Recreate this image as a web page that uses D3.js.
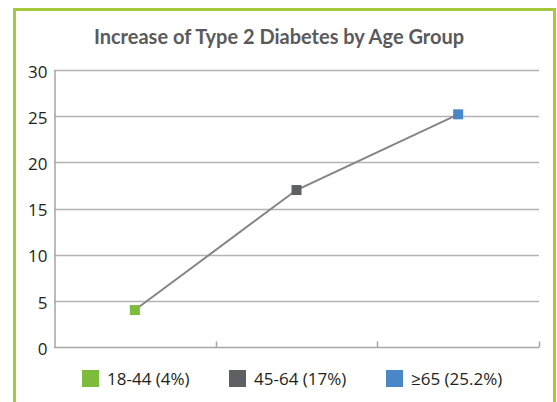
<!DOCTYPE html>
<html>
<head>
<meta charset="utf-8">
<script src="https://cdn.jsdelivr.net/npm/d3@7"></script>
<style>
  html, body { margin: 0; padding: 0; background: #fff; }
  svg { display: block; }
</style>
</head>
<body>
<svg id="chart" width="557" height="402"></svg>
<script>
// Age groups, prevalence (%) and their colours
const categories = ["18-44", "45-64", "≥65"];
const values = [4, 17, 25.2];
const legendLabels = ["18-44 (4%)", "45-64 (17%)", "≥65 (25.2%)"];
const colors = ["#7dbb3d", "#5f6064", "#4a87c7"];
const yTicks = [0, 5, 10, 15, 20, 25, 30];
const title = "Increase of Type 2 Diabetes by Age Group";

const svg = d3.select("#chart");

// Frame
svg.append("rect")
  .attr("x", 14.5).attr("y", 9.5)
  .attr("width", 540).attr("height", 420)
  .attr("fill", "#fff")
  .attr("stroke", "#a6c83c").attr("stroke-width", 3);

// Title
svg.append("text")
  .attr("x", 279).attr("y", 43.5)
  .attr("text-anchor", "middle")
  .attr("font-family", "Lato, 'Open Sans', sans-serif")
  .attr("font-weight", 700)
  .attr("font-size", 20)
  .attr("fill", "#5a5a5c")
  .text(title);

const plot = { left: 54, right: 539, top: 70, bottom: 347 };

const x = d3.scaleBand().domain(categories).range([plot.left, plot.right]);
const y = d3.scaleLinear().domain([0, 30]).range([plot.bottom, plot.top]);

// Horizontal gridlines
svg.append("g")
  .selectAll("line")
  .data(yTicks.filter(d => d > 0))
  .join("line")
  .attr("x1", plot.left).attr("x2", plot.right)
  .attr("y1", d => Math.round(y(d)) + 0.5).attr("y2", d => Math.round(y(d)) + 0.5)
  .attr("stroke", "#b3b3b3").attr("stroke-width", 1.5);

// Y axis
const yAxis = svg.append("g")
  .attr("transform", `translate(${plot.left + 0.5},0)`)
  .call(d3.axisLeft(y).tickValues(yTicks).tickSize(0).tickPadding(7));
yAxis.select(".domain").attr("stroke", "#a6a6a6").attr("stroke-width", 1.5);
yAxis.selectAll("text")
  .attr("dy", "0.43em")
  .attr("font-family", "'Open Sans', sans-serif")
  .attr("font-size", 17)
  .attr("fill", "#231f20");

// X axis with boundary ticks between categories
const xAxis = svg.append("g")
  .attr("transform", `translate(0,${Math.round(plot.bottom) + 0.5})`);
xAxis.append("line")
  .attr("x1", plot.left).attr("x2", plot.right)
  .attr("stroke", "#a6a6a6").attr("stroke-width", 1.5);
const bounds = categories.map(c => x(c)).concat([x(categories[categories.length - 1]) + x.bandwidth()]);
xAxis.selectAll("line.tick")
  .data(bounds.slice(1))
  .join("line")
  .attr("class", "tick")
  .attr("x1", d => Math.round(d) + 0.5).attr("x2", d => Math.round(d) + 0.5)
  .attr("y1", 0).attr("y2", -6)
  .attr("stroke", "#a6a6a6").attr("stroke-width", 1.5);

// Line connecting the groups
const pts = categories.map((c, i) => ({ c, v: values[i], color: colors[i] }));
const line = d3.line()
  .x(d => x(d.c) + x.bandwidth() / 2)
  .y(d => y(d.v));
svg.append("path")
  .datum(pts)
  .attr("d", line)
  .attr("fill", "none")
  .attr("stroke", "#858585")
  .attr("stroke-width", 2);

// Square markers
const ms = 10;
svg.append("g")
  .selectAll("rect")
  .data(pts)
  .join("rect")
  .attr("x", d => x(d.c) + x.bandwidth() / 2 - ms / 2)
  .attr("y", d => y(d.v) - ms / 2)
  .attr("width", ms).attr("height", ms)
  .attr("fill", d => d.color);

// Legend
const legendX = [82, 229, 386];
const lg = svg.append("g")
  .selectAll("g")
  .data(legendLabels)
  .join("g")
  .attr("transform", (d, i) => `translate(${legendX[i]},370)`);
lg.append("rect")
  .attr("width", 17).attr("height", 17)
  .attr("fill", (d, i) => colors[i]);
lg.append("text")
  .attr("x", 25).attr("y", 15)
  .attr("font-family", "'Open Sans', sans-serif")
  .attr("font-size", 17)
  .attr("fill", "#231f20")
  .text(d => d);
</script>
</body>
</html>
